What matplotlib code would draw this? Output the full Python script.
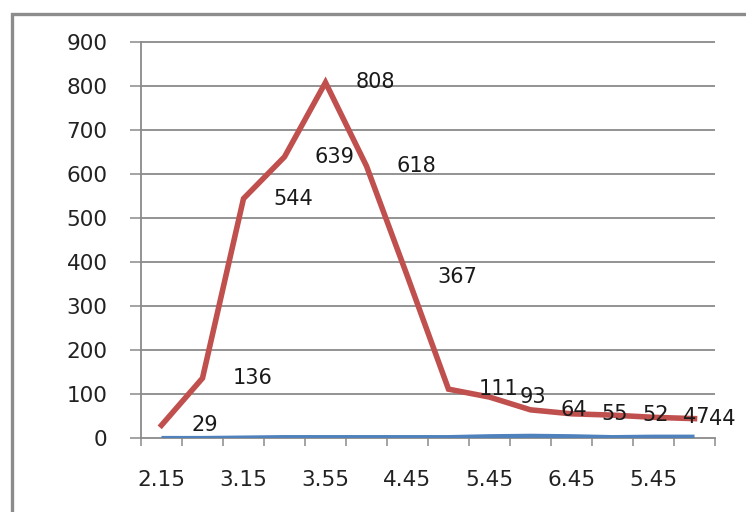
import numpy as np
import matplotlib.pyplot as plt
from matplotlib.patches import Rectangle

plt.rcParams['font.family'] = ['DejaVu Sans']

# series values, one point per category
red_values = [29, 136, 544, 639, 808, 618, 367, 111, 93, 64, 55, 52, 47, 44]
blue_values = [0, 0, 1, 2, 2, 2, 2, 2, 4, 5, 4, 2, 3, 3]
# only every other category is labelled on the axis
tick_labels = ['2.15', '3.15', '3.55', '4.45', '5.45', '6.45', '5.45']
y_ticks = list(range(0, 901, 100))

x = np.arange(len(red_values))

fig = plt.figure(figsize=(7.46, 5.12), dpi=100)
ax = fig.add_axes([141 / 746, 1 - 438 / 512, (715 - 141) / 746, (438 - 42) / 512])

grid_col = '#8a8a8a'
ax.set_xlim(-0.5, len(x) - 0.5)
ax.set_ylim(0, 900)

# horizontal gridlines
ax.hlines(y_ticks[1:], -0.5, len(x) - 0.5, colors=grid_col, lw=1.3, clip_on=False, zorder=1)

ax.plot(x, blue_values, color='#4F81BD', lw=3.0, solid_capstyle='butt', zorder=3)
ax.plot(x, red_values, color='#C0504D', lw=4.0, solid_joinstyle='miter', zorder=4)

# value labels to the right of each red point
for i, (xi, v) in enumerate(zip(x, red_values)):
    dx = 30 if i < len(x) - 1 else 14
    ax.annotate(str(v), (xi, v), xytext=(dx, 0), textcoords='offset pixels',
                ha='left', va='center', fontsize=15, color='#1a1a1a',
                annotation_clip=False, zorder=5)

for s in ['top', 'right']:
    ax.spines[s].set_visible(False)
for s in ['left', 'bottom']:
    ax.spines[s].set_color(grid_col)
    ax.spines[s].set_linewidth(1.3)

ax.set_yticks(y_ticks)
ax.set_yticklabels([str(t) for t in y_ticks])
ax.tick_params(axis='y', length=8, width=1.1, color=grid_col, pad=16,
               labelsize=15.5, labelcolor='#222222')

# tick marks between categories, labels on every other category
ax.set_xticks(np.arange(-0.5, len(x)), minor=True)
ax.set_xticks(x[::2])
ax.set_xticklabels(tick_labels)
ax.tick_params(axis='x', which='major', length=0, pad=23,
               labelsize=15.5, labelcolor='#222222')
ax.tick_params(axis='x', which='minor', length=6, width=1.1, color=grid_col)

# chart border
top = 1 - 14 / 512
fig.add_artist(Rectangle((12 / 746, -0.2), 1.2, top + 0.2,
                         transform=fig.transFigure, fill=False,
                         edgecolor='#8c8c8c', lw=2.4))

fig.savefig('out.png', dpi=100)
